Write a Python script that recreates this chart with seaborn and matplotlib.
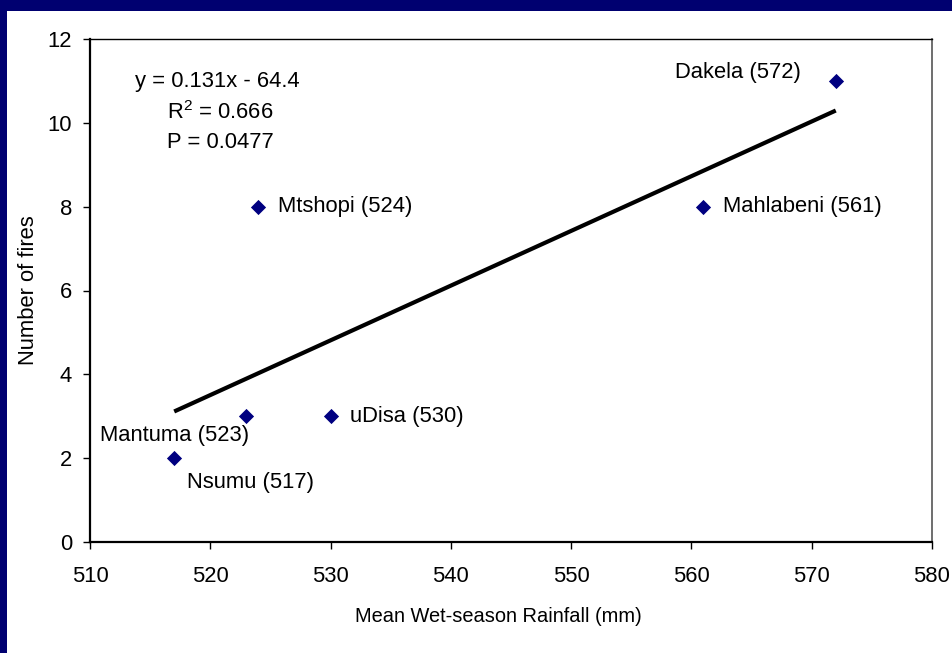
import matplotlib
matplotlib.use("Agg")
import matplotlib.pyplot as plt
import seaborn as sns
import pandas as pd
import numpy as np

# ---- data ----
sites = ["Dakela", "Mahlabeni", "Mtshopi", "uDisa", "Mantuma", "Nsumu"]
rainfall = [572, 561, 524, 530, 523, 517]
fires = [11, 8, 8, 3, 3, 2]
x_ticks = [510, 520, 530, 540, 550, 560, 570, 580]
y_ticks = [0, 2, 4, 6, 8, 10, 12]
equation_lines = ["y = 0.131x - 64.4", "R$^2$ = 0.666", "P = 0.0477"]

df = pd.DataFrame({"site": sites, "rain": rainfall, "fires": fires})

sns.set_theme(style="white")
plt.rcParams["font.family"] = ["Liberation Sans", "DejaVu Sans"]
plt.rcParams["mathtext.fontset"] = "custom"
plt.rcParams["mathtext.rm"] = "Liberation Sans"
plt.rcParams["text.color"] = "black"
plt.rcParams["axes.labelcolor"] = "black"
plt.rcParams["xtick.color"] = "black"
plt.rcParams["ytick.color"] = "black"

FS = 15.8

fig = plt.figure(figsize=(9.53, 6.53), dpi=100)
fig.patch.set_facecolor("#000070")

# white slide panel
bg = fig.add_axes([7 / 953, 0, 1 - 7 / 953, 1 - 11 / 653])
bg.set_facecolor("white")
bg.set_xticks([])
bg.set_yticks([])
for sp in bg.spines.values():
    sp.set_visible(False)
bg.set_zorder(0)

ax = fig.add_axes([90 / 953, 1 - 542 / 653, (932 - 90) / 953, (542 - 39) / 653])
ax.set_zorder(1)
ax.set_facecolor("white")

sns.regplot(data=df, x="rain", y="fires", ci=None, scatter=False, ax=ax,
            line_kws=dict(color="black", lw=3, solid_capstyle="butt"))
sns.scatterplot(data=df, x="rain", y="fires", marker="D", s=60, color="#000080",
                edgecolor="#000080", linewidth=0, ax=ax, zorder=5)

offsets = {
    "Dakela": (-35, 8, "right"),
    "Mahlabeni": (20, 0, "left"),
    "Mtshopi": (20, 0, "left"),
    "uDisa": (19, 0, "left"),
    "Mantuma": (3, -19, "right"),
    "Nsumu": (13, -24, "left"),
}
for s, xv, yv in zip(sites, rainfall, fires):
    dx, dy, ha = offsets[s]
    ax.annotate(f"{s} ({xv})", (xv, yv), xytext=(dx, dy), textcoords="offset pixels",
                ha=ha, va="center", fontsize=FS, color="black")

ax.text(135 / 953, 1 - 82 / 653, equation_lines[0], transform=fig.transFigure,
        fontsize=FS, va="center", ha="left")
ax.text(167 / 953, 1 - 113 / 653, equation_lines[1], transform=fig.transFigure,
        fontsize=FS, va="center", ha="left")
ax.text(167 / 953, 1 - 143 / 653, equation_lines[2], transform=fig.transFigure,
        fontsize=FS, va="center", ha="left")

ax.set_xlim(510, 580)
ax.set_ylim(0, 12)
ax.set_xticks(x_ticks)
ax.set_yticks(y_ticks)
ax.tick_params(axis="both", labelsize=FS, direction="out", length=5, width=1,
               colors="black", bottom=True, left=True)
ax.tick_params(axis="x", pad=12)
ax.tick_params(axis="y", pad=8)
ax.set_xlabel("Mean Wet-season Rainfall (mm)", fontsize=14.4)
ax.xaxis.set_label_coords((498 - 90) / 842, -(616 - 542) / 503)
ax.xaxis.label.set_va("center")
ax.set_ylabel("Number of fires", fontsize=FS, labelpad=6)

for side in ["left", "bottom"]:
    ax.spines[side].set_color("black")
    ax.spines[side].set_linewidth(1.6)
ax.spines["top"].set_color("black")
ax.spines["top"].set_linewidth(1.0)
ax.spines["right"].set_color("#555555")
ax.spines["right"].set_linewidth(1.2)
for sp in ax.spines.values():
    sp.set_visible(True)

fig.savefig("out.png", dpi=100, facecolor=fig.get_facecolor())
